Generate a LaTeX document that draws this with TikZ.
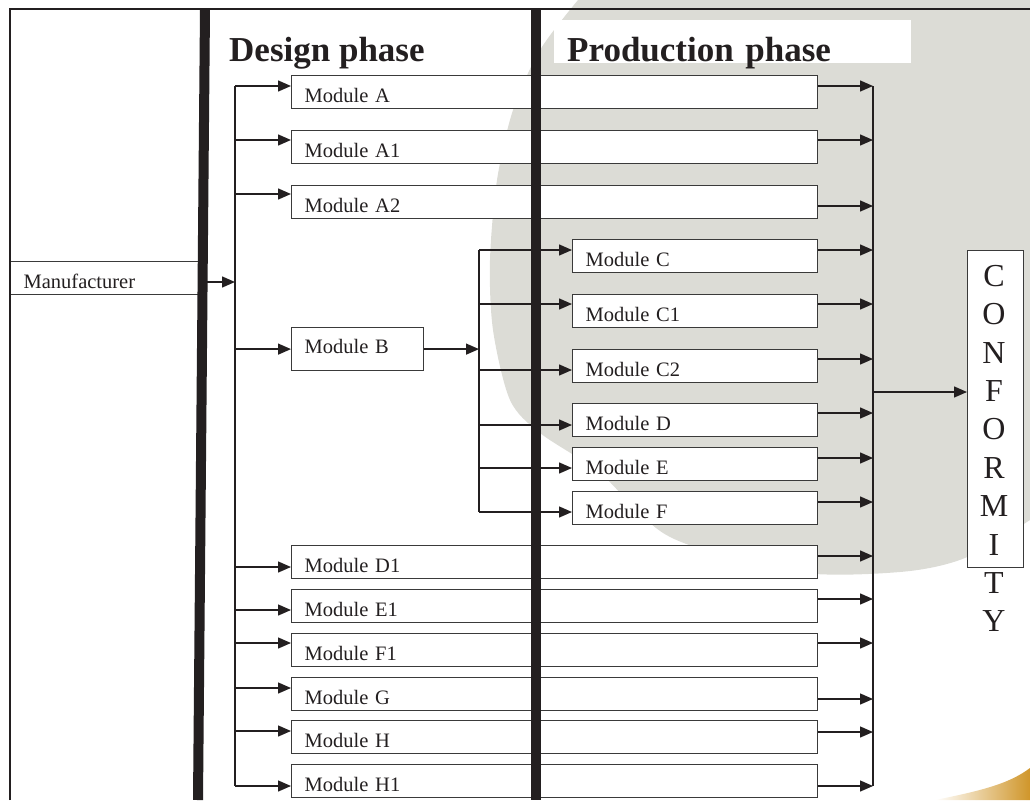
\documentclass[tikz,border=0pt]{standalone}
\usepackage{fontspec}
\setmainfont{Liberation Serif}
\usetikzlibrary{arrows.meta}

\definecolor{ink}{HTML}{231F20}
\definecolor{edge}{HTML}{3A3A3A}
\definecolor{bggrey}{HTML}{DCDCD6}
\definecolor{gold}{HTML}{D0962A}

\begin{document}
\begin{tikzpicture}[
  x=1pt, y=-1pt,
  every node/.style={font=\fontsize{20.5}{24}\selectfont, text=ink},
  mbox/.style={draw=edge, fill=white, line width=1.2pt, anchor=north west, align=left, inner xsep=13pt, inner ysep=0pt, text height=26.5pt, text depth=6pt},
  longbox/.style={mbox, text width=500pt},
  shortbox/.style={mbox, text width=219pt},
  head/.style={font=\fontsize{35}{40}\selectfont\bfseries, anchor=base west, inner sep=0pt},
  word/.style={font=\fontsize{32}{38.4}\selectfont, align=center, anchor=north, inner sep=0pt},
  bar/.style={line width=10pt, draw=ink},
  wire/.style={line width=1.4pt, draw=ink},
  arr/.style={-{Triangle[length=13pt, width=11pt]}, line width=1.4pt, draw=ink}
]
\useasboundingbox (0,0) rectangle (1030,800);

% Backdrop of the slide
\fill[bggrey] plot[smooth] coordinates {(578,0) (540,50) (513,110) (497,180) (490,260) (493,330) (510,400) (540,433) (600,473) (670,537) (795,572) (900,572) (965,558) (1030,520)} -- (1030,0) -- cycle;
\shade[left color=white, right color=gold] (935,800) .. controls (985,790) and (1010,783) .. (1030,768) -- (1030,800) -- cycle;

% Column 1: Manufacturer
\node[mbox, text width=163pt] (manuf) at (10,261) {Manufacturer};

% Headings
\node[head] (design) at (229,62) {Design phase};
\node[head, fill=white, inner xsep=13pt, text height=42pt, text depth=1pt, text width=331pt] (prod) at (554,62) {Production phase};

% Modules spanning both phases (upper)
\node[longbox] (mA) at (291,75) {Module A};
\node[longbox] (mA1) at (291,130) {Module A1};
\node[longbox] (mA2) at (291,185) {Module A2};

% Module B and its production modules
\node[mbox, text width=106pt, text height=26pt, text depth=17pt] (mB) at (291,327) {Module B};
\node[shortbox] (mC) at (572,239) {Module C};
\node[shortbox] (mC1) at (572,294) {Module C1};
\node[shortbox] (mC2) at (572,349) {Module C2};
\node[shortbox] (mD) at (572,403) {Module D};
\node[shortbox] (mE) at (572,447) {Module E};
\node[shortbox] (mF) at (572,491) {Module F};

% Modules spanning both phases (lower)
\node[longbox] (mD1) at (291,545) {Module D1};
\node[longbox] (mE1) at (291,589) {Module E1};
\node[longbox] (mF1) at (291,633) {Module F1};
\node[longbox] (mG) at (291,677) {Module G};
\node[longbox] (mH) at (291,720) {Module H};
\node[longbox] (mH1) at (291,764) {Module H1};

% Conformity
\node[draw=edge, fill=white, line width=1.2pt, minimum width=56pt, minimum height=317pt, anchor=north west, inner sep=0pt] (conf) at (967,250) {};
\node[word] (word) at (994,265) {C\\O\\N\\F\\O\\R\\M\\I\\T\\Y};

% Rails
\coordinate (r1a) at (235,86);
\coordinate (r1b) at (235,786);
\coordinate (r2a) at (479,250);
\coordinate (r2b) at (479,512);
\coordinate (c1a) at (873,86);
\coordinate (c1b) at (873,786);
\draw[wire] (r1a) -- (r1b);
\draw[wire] (r2a) -- (r2b);
\draw[wire] (c1a) -- (c1b);

% Connections: manufacturer to modules
\draw[arr] (manuf.east |- 0,282) -- (r1a |- 0,282);
\draw[arr] (r1a |- 0,86) -- (mA.west |- 0,86);
\draw[arr] (r1a |- 0,140) -- (mA1.west |- 0,140);
\draw[arr] (r1a |- 0,194) -- (mA2.west |- 0,194);
\draw[arr] (r1a |- mB.west) -- (mB.west);
\draw[arr] (r1a |- 0,567) -- (mD1.west |- 0,567);
\draw[arr] (r1a |- 0,610) -- (mE1.west |- 0,610);
\draw[arr] (r1a |- 0,643) -- (mF1.west |- 0,643);
\draw[arr] (r1a |- 0,688) -- (mG.west |- 0,688);
\draw[arr] (r1a |- 0,731) -- (mH.west |- 0,731);
\draw[arr] (r1a |- 0,786) -- (mH1.west |- 0,786);

% Connections: Module B to production modules
\draw[arr] (mB.east) -- (mB.east -| r2a);
\draw[arr] (r2a |- 0,250) -- (mC.west |- 0,250);
\draw[arr] (r2a |- 0,304) -- (mC1.west |- 0,304);
\draw[arr] (r2a |- 0,370) -- (mC2.west |- 0,370);
\draw[arr] (r2a |- 0,425) -- (mD.west |- 0,425);
\draw[arr] (r2a |- 0,468) -- (mE.west |- 0,468);
\draw[arr] (r2a |- 0,512) -- (mF.west |- 0,512);

% Connections: modules to conformity
\draw[arr] (mA.east |- 0,86) -- (c1a |- 0,86);
\draw[arr] (mA1.east |- 0,140) -- (c1a |- 0,140);
\draw[arr] (mA2.east |- 0,206) -- (c1a |- 0,206);
\draw[arr] (mC.east |- 0,250) -- (c1a |- 0,250);
\draw[arr] (mC1.east |- 0,304) -- (c1a |- 0,304);
\draw[arr] (mC2.east |- 0,359) -- (c1a |- 0,359);
\draw[arr] (mD.east |- 0,413) -- (c1a |- 0,413);
\draw[arr] (mE.east |- 0,458) -- (c1a |- 0,458);
\draw[arr] (mF.east |- 0,502) -- (c1a |- 0,502);
\draw[arr] (mD1.east |- 0,556) -- (c1a |- 0,556);
\draw[arr] (mE1.east |- 0,599) -- (c1a |- 0,599);
\draw[arr] (mF1.east |- 0,643) -- (c1a |- 0,643);
\draw[arr] (mG.east |- 0,699) -- (c1a |- 0,699);
\draw[arr] (mH.east |- 0,732) -- (c1a |- 0,732);
\draw[arr] (mH1.east |- 0,786) -- (c1a |- 0,786);
\draw[arr] (c1a |- 0,392) -- (conf.west |- 0,392);

% Frame and phase bars
\draw[bar] (205,9) -- (198,800);
\draw[bar] (536,9) -- (536,800);
\draw[line width=2pt, draw=ink] (10,800) -- (10,9) -- (1030,9);
\end{tikzpicture}
\end{document}
